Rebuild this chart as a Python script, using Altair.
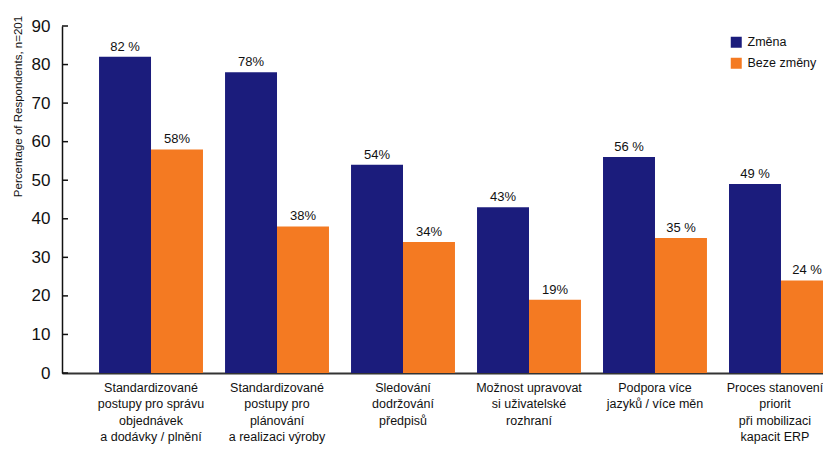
import altair as alt
import pandas as pd

categories = [
    "Standardizované\npostupy pro správu\nobjednávek\na dodávky / plnění",
    "Standardizované\npostupy pro\nplánování\na realizaci výroby",
    "Sledování\ndodržování\npředpisů",
    "Možnost upravovat\nsi uživatelské\nrozhraní",
    "Podpora více\njazyků / více měn",
    "Proces stanovení\npriorit\npři mobilizaci\nkapacit ERP",
]
series = ["Změna", "Beze změny"]
zmena = [82, 78, 54, 43, 56, 49]
beze = [58, 38, 34, 19, 35, 24]
zmena_labels = ["82 %", "78%", "54%", "43%", "56 %", "49 %"]
beze_labels = ["58%", "38%", "34%", "19%", "35 %", "24 %"]
y_ticks = [0, 10, 20, 30, 40, 50, 60, 70, 80, 90]

NAVY = "#1b1c7c"
ORANGE = "#f47a22"
FONT = "Liberation Sans, Arial, sans-serif"

rows = []
for i, c in enumerate(categories):
    rows.append({"cat": c, "series": series[0], "value": zmena[i], "label": zmena_labels[i]})
    rows.append({"cat": c, "series": series[1], "value": beze[i], "label": beze_labels[i]})
df = pd.DataFrame(rows)
ticks_df = pd.DataFrame({"value": y_ticks})

x_axis = alt.Axis(
    title=None,
    labelAngle=0,
    labelExpr="split(datum.label, '\\n')",
    ticks=False,
    domainColor="#333333",
    domainWidth=2,
    labelFont=FONT,
    labelFontSize=12.5,
    labelLineHeight=16.5,
    labelPadding=8,
    labelColor="#111111",
    labelLimit=0,
    labelAlign="center",
    labelBaseline="top",
    labelOverlap=False,
    labelOffset={"condition": {"test": "indexof(datum.value, 'Proces') == 0", "value": -6}, "value": 0},
)
x_enc = alt.X(
    "cat:N",
    sort=categories,
    scale=alt.Scale(range=[0, 808], paddingInner=0.175, paddingOuter=0.294),
    axis=x_axis,
)
xoff = alt.XOffset("series:N", sort=series, scale=alt.Scale(paddingInner=0, paddingOuter=0))
y_axis = alt.Axis(
    values=y_ticks,
    tickCount=10,
    ticks=False,
    grid=False,
    domainColor="#111111",
    domainWidth=1.5,
    labelFont=FONT,
    labelFontSize=17,
    labelPadding=12,
    labelColor="#111111",
    labelOverlap=False,
    title="Percentage of Respondents, n=201",
    titleFont=FONT,
    titleFontSize=11.5,
    titleFontWeight="normal",
    titleColor="#111111",
    titleAngle=270,
    titleX=-44,
    titleY=80,
    titleAlign="center",
    titleBaseline="middle",
)
y_enc = alt.Y("value:Q", scale=alt.Scale(domain=[0, 90], nice=False), axis=y_axis)

base = alt.Chart(df)

bars = base.mark_bar().encode(
    x=x_enc,
    xOffset=xoff,
    y=y_enc,
    color=alt.Color(
        "series:N",
        sort=series,
        scale=alt.Scale(domain=series, range=[NAVY, ORANGE]),
        legend=alt.Legend(
            orient="none",
            legendX=668,
            legendY=10,
            title=None,
            symbolType="square",
            symbolSize=121,
            symbolStrokeWidth=0,
            labelFont=FONT,
            labelFontSize=12.5,
            labelColor="#111111",
            labelOffset=5,
            rowPadding=8,
        ),
    ),
)

texts = base.mark_text(baseline="bottom", dy=-3, font=FONT, fontSize=13, color="#111111").encode(
    x=x_enc,
    xOffset=xoff,
    y=y_enc,
    text="label:N",
)

tick_rules = alt.Chart(ticks_df).mark_rule(color="#111111", strokeWidth=1.5).encode(
    y=y_enc,
    x=alt.value(0),
    x2=alt.value(6),
)

chart = (
    alt.layer(bars, texts, tick_rules)
    .properties(
        width=761,
        height=347,
        autosize=alt.AutoSizeParams(type="none"),
        padding={"left": 54, "top": 18, "right": 0, "bottom": 79},
        background="white",
    )
    .configure_view(stroke=None)
)

chart.save("out.html", embed_options={"renderer": "svg", "actions": False})
